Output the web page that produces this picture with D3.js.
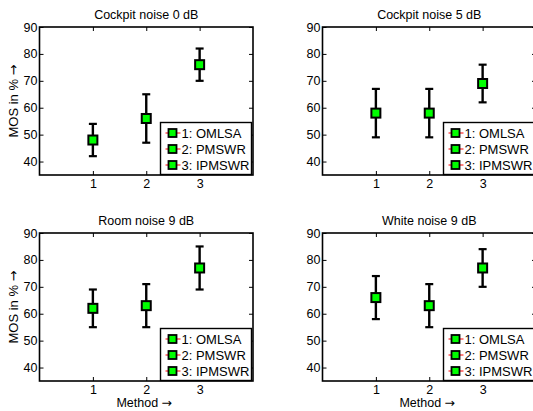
<!DOCTYPE html>
<html>
<head>
<meta charset="utf-8">
<script src="https://cdn.jsdelivr.net/npm/d3@7"></script>
<style>
  body { margin: 0; background: #fff; }
  text { font-family: "Liberation Sans", Arial, sans-serif; }
  .arrow { font-family: "DejaVu Sans", sans-serif; }
</style>
</head>
<body>
<div id="chart"></div>
<script>
// data
var titles = ["Cockpit noise 0 dB", "Cockpit noise 5 dB", "Room noise 9 dB", "White noise 9 dB"];
var methods = [1, 2, 3];
var methodNames = ["1: OMLSA", "2: PMSWR", "3: IPMSWR"];
var means = [[48, 56, 76], [58, 58, 69], [62, 63, 77], [66, 63, 77]];
var lows  = [[42, 47, 70], [49, 49, 62], [55, 55, 69], [58, 55, 70]];
var highs = [[54, 65, 82], [67, 67, 76], [69, 71, 85], [74, 71, 84]];
var yTicks = [40, 50, 60, 70, 80, 90];

var svgWidth = 533, svgHeight = 411;
var panelW = 213.5, panelH = 148;
var origins = [[39.5, 27], [322.5, 27], [39.5, 233], [322.5, 233]];

var svg = d3.select("#chart").append("svg")
  .attr("width", svgWidth)
  .attr("height", svgHeight);

var x = d3.scaleLinear().domain([0, 4]).range([0, panelW]);
var y = d3.scaleLinear().domain([35, 90]).range([panelH, 0]);

titles.forEach(function(title, p) {
  var g = svg.append("g")
    .attr("transform", `translate(${origins[p][0]}, ${origins[p][1]})`);

  g.append("rect")
    .attr("width", panelW).attr("height", panelH)
    .attr("fill", "#fff");

  // axes, ticks pointing inward on all four sides
  var bottom = g.append("g").attr("transform", `translate(0, ${panelH})`)
    .call(d3.axisBottom(x).tickValues(methods).tickSize(-4).tickPadding(4).tickFormat(d3.format("d")));
  var top = g.append("g")
    .call(d3.axisTop(x).tickValues(methods).tickSize(-4).tickFormat(""));
  var left = g.append("g")
    .call(d3.axisLeft(y).tickValues(yTicks).tickSize(-4).tickPadding(2));
  var right = g.append("g").attr("transform", `translate(${panelW}, 0)`)
    .call(d3.axisRight(y).tickValues(yTicks).tickSize(-4).tickFormat(""));

  [bottom, top, left, right].forEach(function(a) {
    a.select(".domain").remove();
    a.selectAll(".tick line").attr("stroke", "#000").attr("stroke-width", 1);
    a.selectAll("text").attr("fill", "#000").style("font-size", "12.5px");
  });

  g.append("rect")
    .attr("width", panelW).attr("height", panelH)
    .attr("fill", "none").attr("stroke", "#000").attr("stroke-width", 1.6);

  g.append("text")
    .attr("x", panelW / 2).attr("y", -8)
    .attr("text-anchor", "middle")
    .style("font-size", "12.5px")
    .text(title);

  // error bars
  var bars = g.selectAll(".eb").data(methods).enter().append("g");
  bars.append("line")
    .attr("x1", d => x(d)).attr("x2", d => x(d))
    .attr("y1", (d, i) => y(lows[p][i])).attr("y2", (d, i) => y(highs[p][i]))
    .attr("stroke", "#000").attr("stroke-width", 2.4);
  bars.append("line")
    .attr("x1", d => x(d) - 4).attr("x2", d => x(d) + 4)
    .attr("y1", (d, i) => y(lows[p][i])).attr("y2", (d, i) => y(lows[p][i]))
    .attr("stroke", "#000").attr("stroke-width", 2.2);
  bars.append("line")
    .attr("x1", d => x(d) - 4).attr("x2", d => x(d) + 4)
    .attr("y1", (d, i) => y(highs[p][i])).attr("y2", (d, i) => y(highs[p][i]))
    .attr("stroke", "#000").attr("stroke-width", 2.2);
  bars.append("rect")
    .attr("x", d => x(d) - 4.5).attr("y", (d, i) => y(means[p][i]) - 4.5)
    .attr("width", 9).attr("height", 9)
    .attr("fill", "#00ff00").attr("stroke", "#000").attr("stroke-width", 2);

  // legend
  var lg = g.append("g").attr("transform", `translate(121, 95.5)`);
  lg.append("rect")
    .attr("width", 91).attr("height", 52)
    .attr("fill", "#fff").attr("stroke", "#000").attr("stroke-width", 1.4);
  var rows = lg.selectAll(".row").data(methodNames).enter().append("g")
    .attr("transform", (d, i) => `translate(0, ${10.5 + i * 16})`);
  rows.append("line")
    .attr("x1", 5).attr("x2", 20).attr("y1", 0).attr("y2", 0)
    .attr("stroke", "#ff0000").attr("stroke-width", 1);
  rows.append("rect")
    .attr("x", 8).attr("y", -4).attr("width", 8).attr("height", 8)
    .attr("fill", "#00ff00").attr("stroke", "#000").attr("stroke-width", 1.8);
  rows.append("text")
    .attr("x", 21).attr("y", 4.5)
    .style("font-size", "13px")
    .text(d => d);

  if (p % 2 === 0) {
    var yl = g.append("text")
      .attr("transform", `translate(-22, ${panelH / 2}) rotate(-90)`)
      .attr("text-anchor", "middle")
      .style("font-size", "13px");
    yl.append("tspan").text("MOS in % ");
    yl.append("tspan").attr("class", "arrow").text("\u2192");
  }
  if (p >= 2) {
    var xl = g.append("text")
      .attr("x", panelW / 2 - 2).attr("y", panelH + 26)
      .attr("text-anchor", "middle")
      .style("font-size", "12.5px");
    xl.append("tspan").text("Method ");
    xl.append("tspan").attr("class", "arrow").text("\u2192");
  }
});
</script>
</body>
</html>
